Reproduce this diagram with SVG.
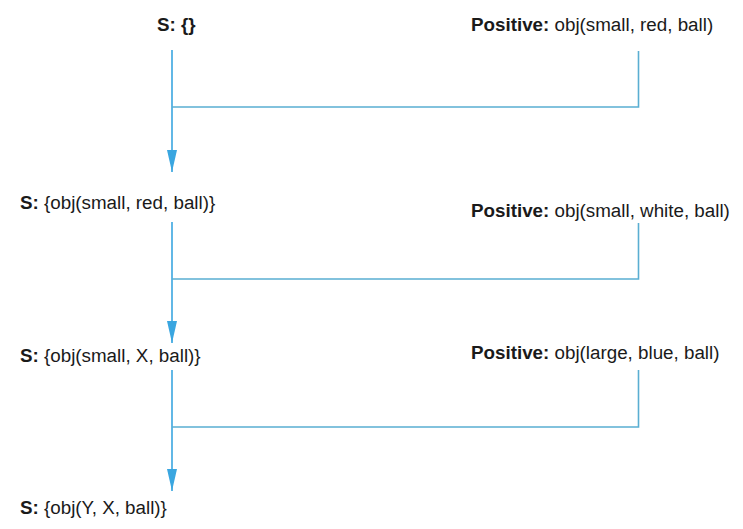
<svg xmlns="http://www.w3.org/2000/svg" width="743" height="529" viewBox="0 0 743 529">
<defs>
<style>
text{font-family:"Liberation Sans",Arial,sans-serif;font-size:18.8px;fill:#1a1a1a}
.b{font-weight:bold}
.ln{stroke:#3aa6e0;stroke-width:1.6;fill:none}
.rn{stroke:#5aaed2;stroke-width:1.6;fill:none}
</style>
<marker id="ah" markerWidth="22" markerHeight="10" refX="22" refY="5" orient="auto" markerUnits="userSpaceOnUse" viewBox="0 0 22 10">
<path d="M0,0 L22,5 L0,10 Z" fill="#3aa6e0"/>
</marker>
</defs>
<rect width="743" height="529" fill="#ffffff"/>
<g id="s0"><text x="157" y="31" class="b">S: {}</text></g>
<g id="p1"><text x="471" y="31"><tspan class="b">Positive:</tspan> obj(small, red, ball)</text></g>
<g id="s1"><text x="20" y="209"><tspan class="b">S:</tspan> {obj(small, red, ball)}</text></g>
<g id="p2"><text x="471" y="217"><tspan class="b">Positive:</tspan> obj(small, white, ball)</text></g>
<g id="s2"><text x="20" y="362"><tspan class="b">S:</tspan> {obj(small, X, ball)}</text></g>
<g id="p3"><text x="471" y="359"><tspan class="b">Positive:</tspan> obj(large, blue, ball)</text></g>
<g id="s3"><text x="20" y="514"><tspan class="b">S:</tspan> {obj(Y, X, ball)}</text></g>
<g id="connectors">
<path class="ln" d="M172,50 V172" marker-end="url(#ah)"/>
<path class="rn" d="M638.5,51 V107 H172"/>
<path class="ln" d="M172,222 V343" marker-end="url(#ah)"/>
<path class="rn" d="M638.5,223 V279 H172"/>
<path class="ln" d="M172,370 V491" marker-end="url(#ah)"/>
<path class="rn" d="M638.5,370 V427 H172"/>
</g>
</svg>
